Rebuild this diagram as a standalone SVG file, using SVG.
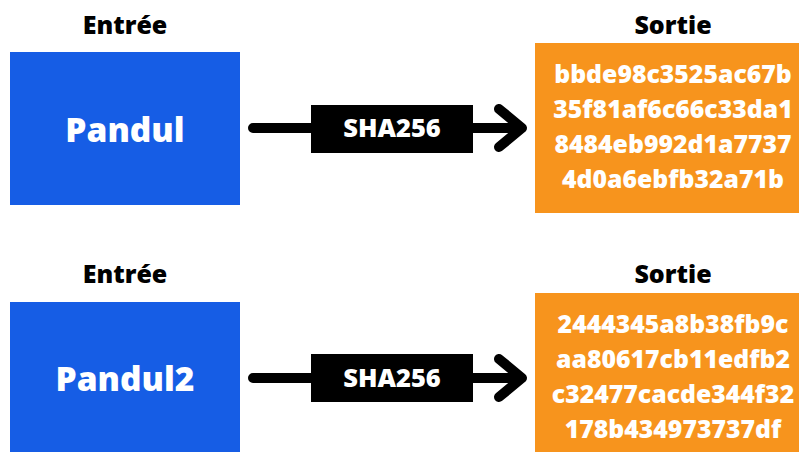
<svg xmlns="http://www.w3.org/2000/svg" width="799" height="452" viewBox="0 0 799 452">
  <style>
    text { font-family: "Open Sans", "Liberation Sans", sans-serif; font-weight: 800; text-anchor: middle; }
    .head { font-size: 25px; fill: #000; }
    .in { fill: #165de5; }
    .out { fill: #f7941d; }
    .inlabel { font-size: 33.5px; fill: #fff; }
    .hash { font-size: 24.8px; fill: #fff; }
    .fn { fill: #000; }
    .fnlabel { font-size: 25.5px; fill: #fff; }
    .shaft { stroke: #000; stroke-width: 10; stroke-linecap: round; stroke-linejoin: round; fill: none; }
  </style>
  <rect width="799" height="452" fill="#fff"/>

  <!-- first row: "Pandul" -->
  <g id="input1">
    <text class="head" x="125" y="34">Entrée</text>
    <rect class="in" x="10" y="52" width="230" height="153"/>
    <text class="inlabel" x="125" y="142">Pandul</text>
  </g>
  <g id="output1">
    <text class="head" x="673" y="34">Sortie</text>
    <rect class="out" x="535" y="43" width="264" height="170"/>
    <text class="hash" x="673" y="83">bbde98c3525ac67b</text>
    <text class="hash" x="673" y="118">35f81af6c66c33da1</text>
    <text class="hash" x="673" y="153">8484eb992d1a7737</text>
    <text class="hash" x="673" y="188">4d0a6ebfb32a71b</text>
  </g>

  <!-- second row: "Pandul2" -->
  <g id="input2">
    <text class="head" x="125" y="283">Entrée</text>
    <rect class="in" x="10" y="302" width="230" height="160"/>
    <text class="inlabel" x="125" y="391">Pandul2</text>
  </g>
  <g id="output2">
    <text class="head" x="673" y="283">Sortie</text>
    <rect class="out" x="535" y="293" width="264" height="169"/>
    <text class="hash" x="673" y="333">2444345a8b38fb9c</text>
    <text class="hash" x="673" y="368">aa80617cb11edfb2</text>
    <text class="hash" x="673" y="403">c32477cacde344f32</text>
    <text class="hash" x="673" y="438">178b434973737df</text>
  </g>

  <!-- hash function connectors -->
  <g id="connectors">
    <g id="sha1">
      <path class="shaft" d="M253 128 H521 M499 109 L522 128 L499 147"/>
      <rect class="fn" x="311" y="105" width="162" height="48"/>
      <text class="fnlabel" x="392" y="137">SHA256</text>
    </g>
    <g id="sha2">
      <path class="shaft" d="M253 378 H521 M499 359 L522 378 L499 397"/>
      <rect class="fn" x="311" y="354" width="162" height="48"/>
      <text class="fnlabel" x="392" y="387">SHA256</text>
    </g>
  </g>
</svg>
